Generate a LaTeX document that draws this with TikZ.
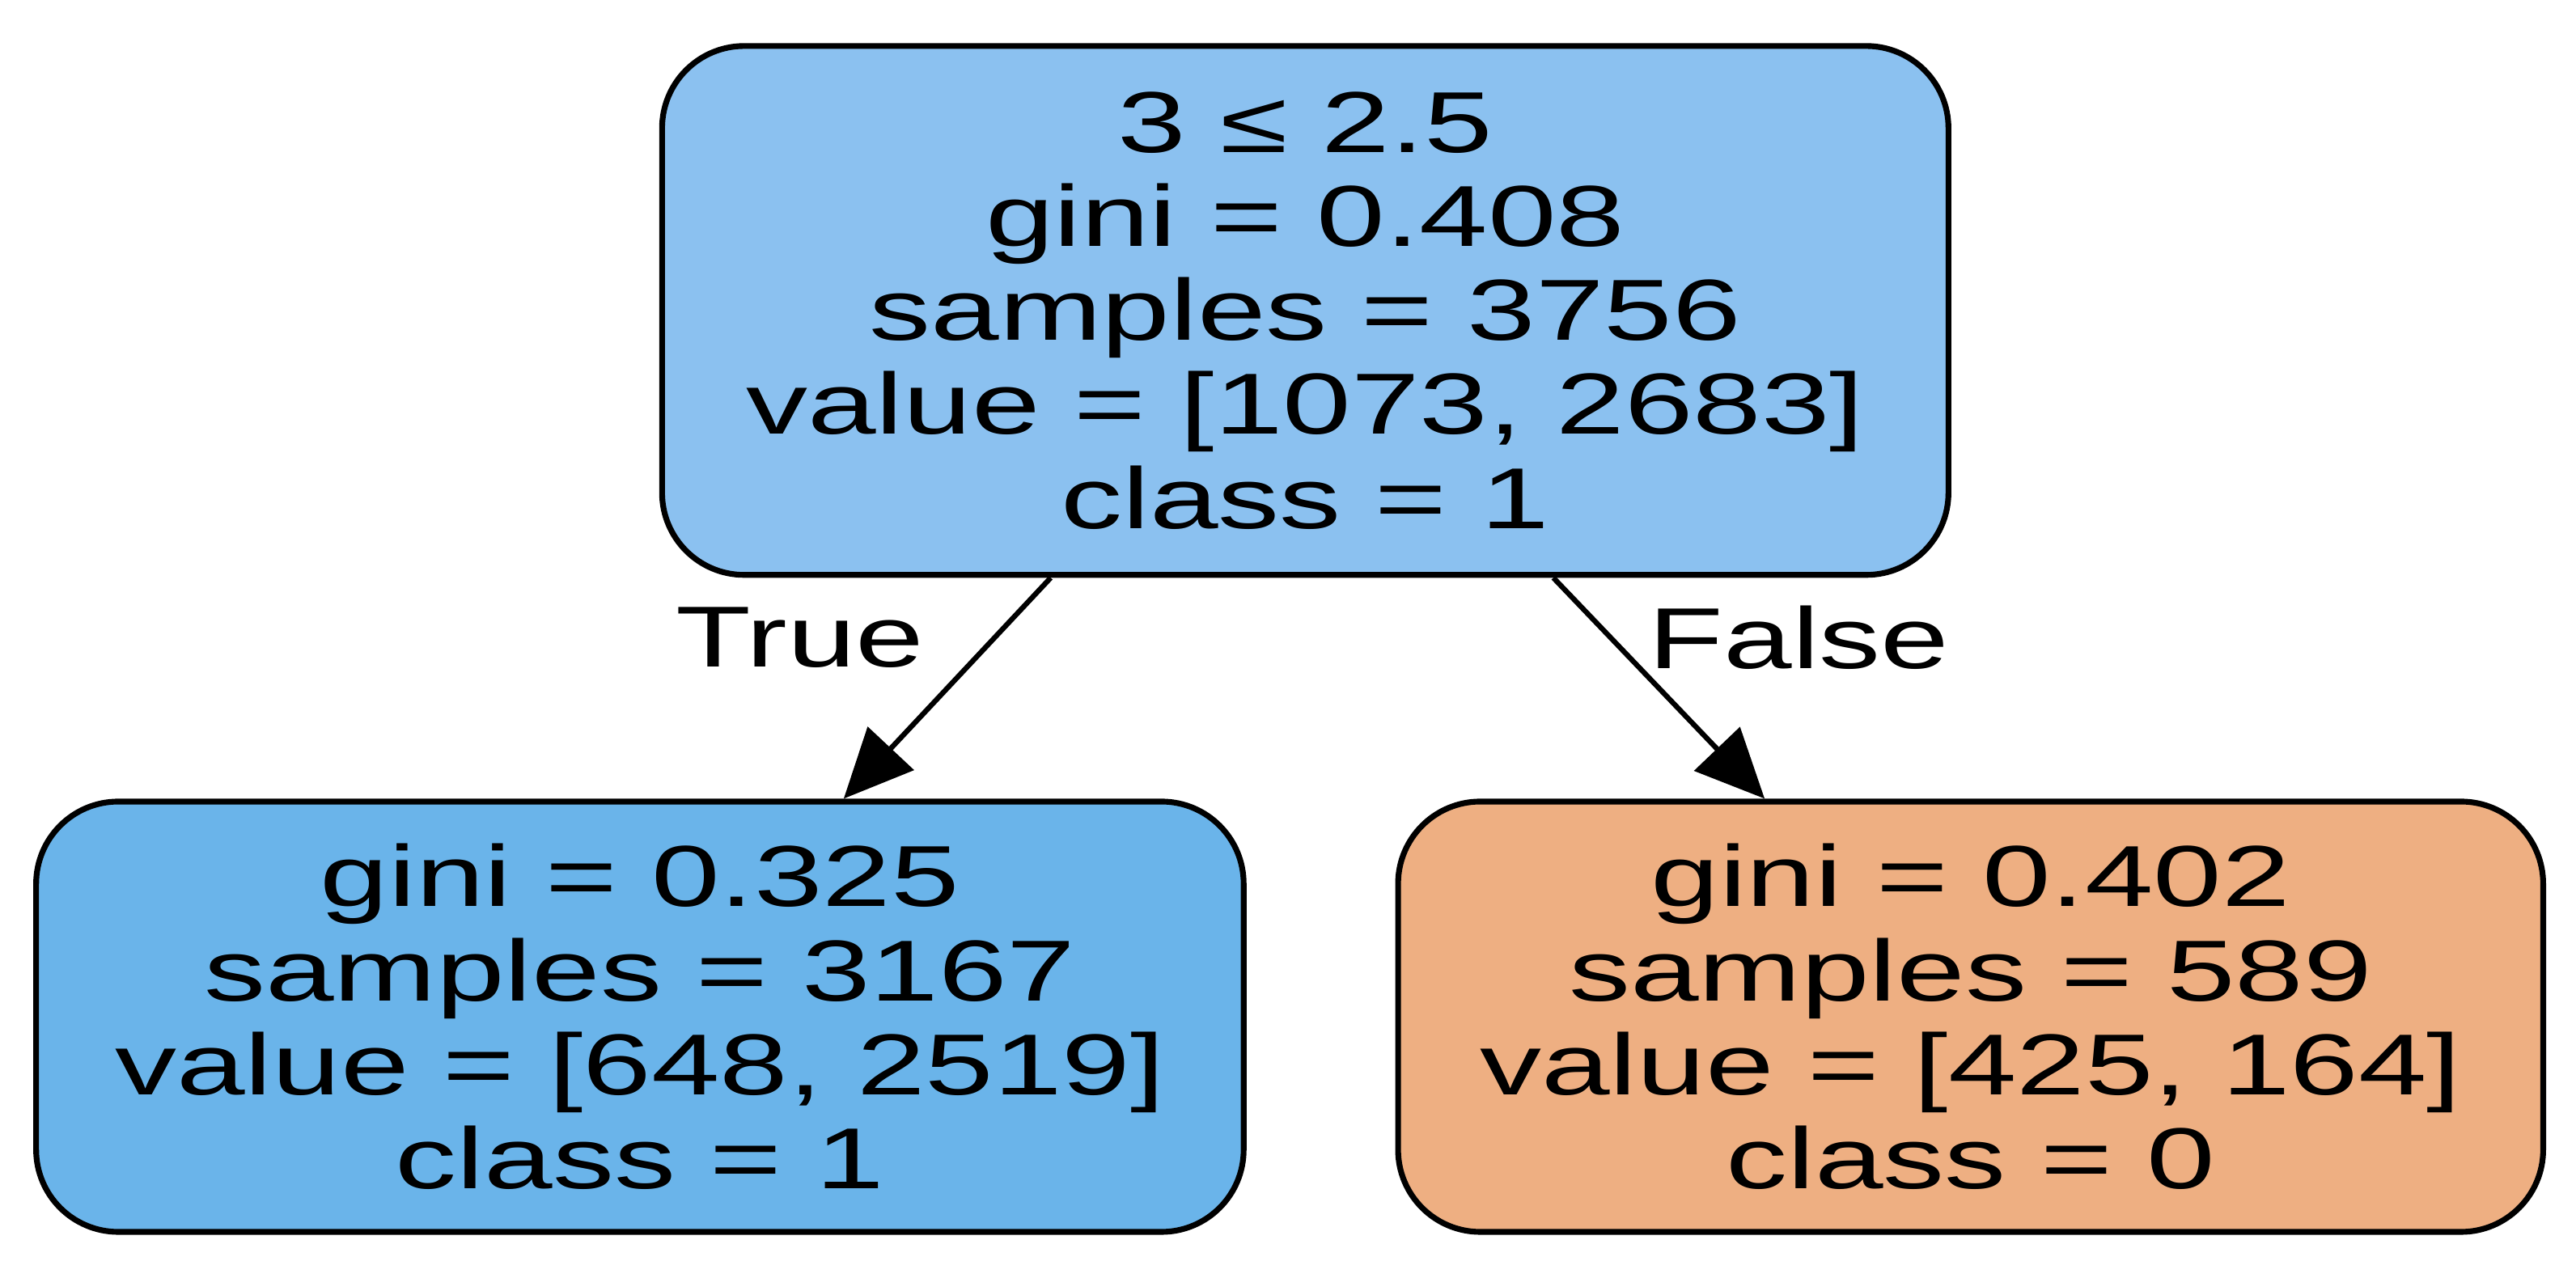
\documentclass[tikz,border=0pt]{standalone}
\usepackage{fontspec}
\setmainfont{Liberation Sans}
\usetikzlibrary{calc,arrows.meta}
\definecolor{rootc}{HTML}{8BC1F0}
\definecolor{leftc}{HTML}{6AB4EA}
\definecolor{rightc}{HTML}{EEAF82}
\newcommand{\wide}[1]{\scalebox{1.42}[1]{#1}}
\tikzset{
 treebox/.style={draw=black,line width=1pt,rounded corners=0.5cm,align=center,inner sep=0pt,
   font=\fontsize{15}{16.3}\selectfont},
 edge/.style={line width=0.9pt,-{Triangle[length=0.42cm,width=0.38cm]}},
 elabel/.style={font=\fontsize{15}{16}\selectfont}
}
\begin{document}
\begin{tikzpicture}
\useasboundingbox (0,0) rectangle (15.68,7.78);
\node[treebox,fill=rootc,minimum width=7.83cm,minimum height=3.22cm] (root) at (7.945,5.89)
 {\wide{3 ≤ 2.5}\\\wide{gini = 0.408}\\\wide{samples = 3756}\\\wide{value = [1073, 2683]}\\\wide{class = 1}};
\node[treebox,fill=leftc,minimum width=7.35cm,minimum height=2.62cm] (l) at (3.895,1.59)
 {\wide{gini = 0.325}\\\wide{samples = 3167}\\\wide{value = [648, 2519]}\\\wide{class = 1}};
\node[treebox,fill=rightc,minimum width=6.97cm,minimum height=2.62cm] (r) at (11.995,1.59)
 {\wide{gini = 0.402}\\\wide{samples = 589}\\\wide{value = [425, 164]}\\\wide{class = 0}};
\draw[edge] ($(root.south west)!0.303!(root.south east)$) -- ($(l.north west)!0.668!(l.north east)$);
\draw[edge] ($(root.south west)!0.692!(root.south east)$) -- ($(r.north west)!0.321!(r.north east)$);
\node[elabel] (t) at (4.87,3.9) {\wide{True}};
\node[elabel] (f) at (10.95,3.9) {\wide{False}};
\end{tikzpicture}
\end{document}
